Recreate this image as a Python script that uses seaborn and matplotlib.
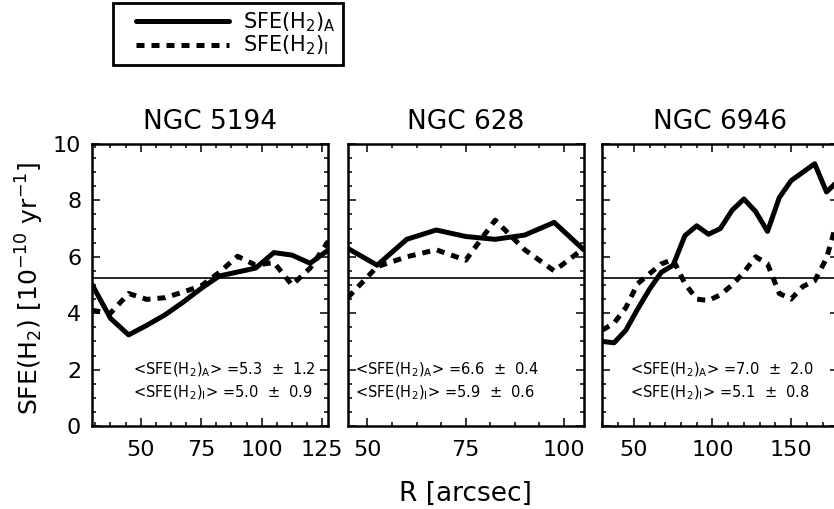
import numpy as np
import pandas as pd
import matplotlib
matplotlib.use("Agg")
import matplotlib.pyplot as plt
import seaborn as sns
from matplotlib.ticker import MultipleLocator
from matplotlib.legend_handler import HandlerLine2D

# ---------------- data ----------------
galaxies = ["NGC 5194", "NGC 628", "NGC 6946"]

r_5194 = [30, 37.5, 45, 52.5, 60, 67.5, 75, 82.5, 90, 97.5, 105, 112.5, 120, 127.5]
sfe_a_5194 = [5.0, 3.82, 3.23, 3.57, 3.94, 4.39, 4.88, 5.32, 5.46, 5.6, 6.15, 6.06, 5.77, 6.24]
sfe_i_5194 = [4.1, 4.0, 4.7, 4.49, 4.55, 4.75, 4.97, 5.45, 6.02, 5.7, 5.8, 5.0, 5.6, 6.55]

r_628 = [45, 52.5, 60, 67.5, 75, 82.5, 90, 97.5, 105]
sfe_a_628 = [6.3, 5.7, 6.62, 6.95, 6.72, 6.62, 6.77, 7.22, 6.25]
sfe_i_628 = [4.55, 5.65, 6.0, 6.25, 5.88, 7.3, 6.25, 5.5, 6.3]

r_6946 = [30, 37.5, 45, 52.5, 60, 67.5, 75, 82.5, 90, 97.5, 105, 112.5, 120,
          127.5, 135, 142.5, 150, 157.5, 165, 172.5, 180]
sfe_a_6946 = [3.0, 2.95, 3.4, 4.15, 4.85, 5.45, 5.7, 6.75, 7.1, 6.8, 7.0, 7.65, 8.05,
              7.6, 6.9, 8.1, 8.7, 9.0, 9.3, 8.3, 8.7]
sfe_i_6946 = [3.4, 3.65, 4.2, 5.05, 5.4, 5.75, 5.9, 5.05, 4.5, 4.45, 4.65, 5.0, 5.45,
              6.0, 5.75, 4.7, 4.5, 4.95, 5.15, 5.95, 7.4]

mean_a = [5.3, 6.6, 7.0]
err_a = [1.2, 0.4, 2.0]
mean_i = [5.0, 5.9, 5.1]
err_i = [0.9, 0.6, 0.8]
ref_level = 5.25

radii = [r_5194, r_628, r_6946]
series_a = [sfe_a_5194, sfe_a_628, sfe_a_6946]
series_i = [sfe_i_5194, sfe_i_628, sfe_i_6946]

# ---------------- style ----------------
sns.set_theme(style="ticks")
plt.rcParams["font.family"] = ["DejaVu Sans"]
plt.rcParams["mathtext.fontset"] = "dejavusans"
for key in ["text.color", "axes.labelcolor", "xtick.color", "ytick.color",
            "axes.edgecolor"]:
    plt.rcParams[key] = "black"

W, H = 834, 509
fig = plt.figure(figsize=(W / 100, H / 100), dpi=100)

lefts_px = [92.3, 347.7, 602.3]
width_px = 236
top_px, bottom_px = 144, 426
xlims = [(30, 127.5), (45, 105), (30, 180)]
majors = [25, 25, 50]
minors = [6.25, 6.25, 10]
text_x = [0.172, 0.031, 0.117]

dash = (0, (1.6, 1.4))
LW = 3.6

axes = []
for k in range(3):
    ax = fig.add_axes([lefts_px[k] / W, 1 - bottom_px / H,
                       width_px / W, (bottom_px - top_px) / H])
    axes.append(ax)
    df = pd.DataFrame({"R": radii[k], "A": series_a[k], "I": series_i[k]})
    sns.lineplot(data=df, x="R", y="A", ax=ax, color="black", lw=LW,
                 estimator=None, sort=False, label=r"SFE(H$_2$)$_{\rm A}$",
                 legend=False)
    sns.lineplot(data=df, x="R", y="I", ax=ax, color="black", lw=LW,
                 linestyle=dash, estimator=None, sort=False,
                 label=r"SFE(H$_2$)$_{\rm I}$", legend=False)
    ax.axhline(ref_level, color="black", lw=1.2)
    ax.set_xlim(*xlims[k])
    ax.set_ylim(0, 10)
    ax.xaxis.set_major_locator(MultipleLocator(majors[k]))
    ax.xaxis.set_minor_locator(MultipleLocator(minors[k]))
    ax.yaxis.set_major_locator(MultipleLocator(2))
    ax.yaxis.set_minor_locator(MultipleLocator(0.5))
    ax.tick_params(which="both", direction="in", top=True, right=True,
                   color="black", labelcolor="black", width=1.1)
    ax.tick_params(which="major", length=5.5)
    ax.tick_params(which="minor", length=2.8)
    ax.tick_params(axis="x", which="major", labelsize=16, pad=10)
    ax.tick_params(axis="y", which="major", labelsize=16, pad=8)
    for s in ax.spines.values():
        s.set_linewidth(1.8)
        s.set_color("black")
    ax.set_xlabel("")
    ax.set_ylabel("")
    if k > 0:
        ax.set_yticklabels([])
    ax.set_title(galaxies[k], fontsize=19, pad=11, color="black")
    ax.text(text_x[k], 0.199,
            r"<SFE(H$_2$)$_{\rm A}$> =" + f"{mean_a[k]:.1f}  \u00b1  {err_a[k]:.1f}",
            transform=ax.transAxes, fontsize=10.5, ha="left", va="center",
            color="black")
    ax.text(text_x[k], 0.117,
            r"<SFE(H$_2$)$_{\rm I}$> =" + f"{mean_i[k]:.1f}  \u00b1  {err_i[k]:.1f}",
            transform=ax.transAxes, fontsize=10.5, ha="left", va="center",
            color="black")

fig.text(30 / W, 1 - 288 / H, r"SFE(H$_2$) [10$^{-10}$ yr$^{-1}$]",
         rotation=90, ha="center", va="center", fontsize=18, color="black")
fig.text(465 / W, 1 - 494 / H, "R [arcsec]", ha="center", va="center",
         fontsize=19, color="black")


class PadLine(HandlerLine2D):
    def __init__(self, pad_frac=0.15, **kw):
        super().__init__(**kw)
        self.pad_frac = pad_frac

    def get_xdata(self, legend, xdescent, ydescent, width, height, fontsize):
        x0 = -xdescent + self.pad_frac * width
        x1 = -xdescent + width
        return np.array([x0, x1]), np.array([(x0 + x1) / 2])


handles = axes[0].lines[:2]
leg = fig.legend(handles=handles,
                 labels=[r"SFE(H$_2$)$_{\rm A}$", r"SFE(H$_2$)$_{\rm I}$"],
                 loc="upper left", bbox_to_anchor=(113 / W, 1 - 3 / H),
                 bbox_transform=fig.transFigure, borderaxespad=0,
                 fontsize=15, handlelength=5.2, handletextpad=0.7,
                 labelspacing=0.0, borderpad=0.35, fancybox=False,
                 framealpha=1, edgecolor="black",
                 handler_map={h: PadLine(0.147) for h in handles})
leg.get_frame().set_linewidth(2.0)
for t in leg.get_texts():
    t.set_color("black")

fig.savefig("out.png", dpi=100)
